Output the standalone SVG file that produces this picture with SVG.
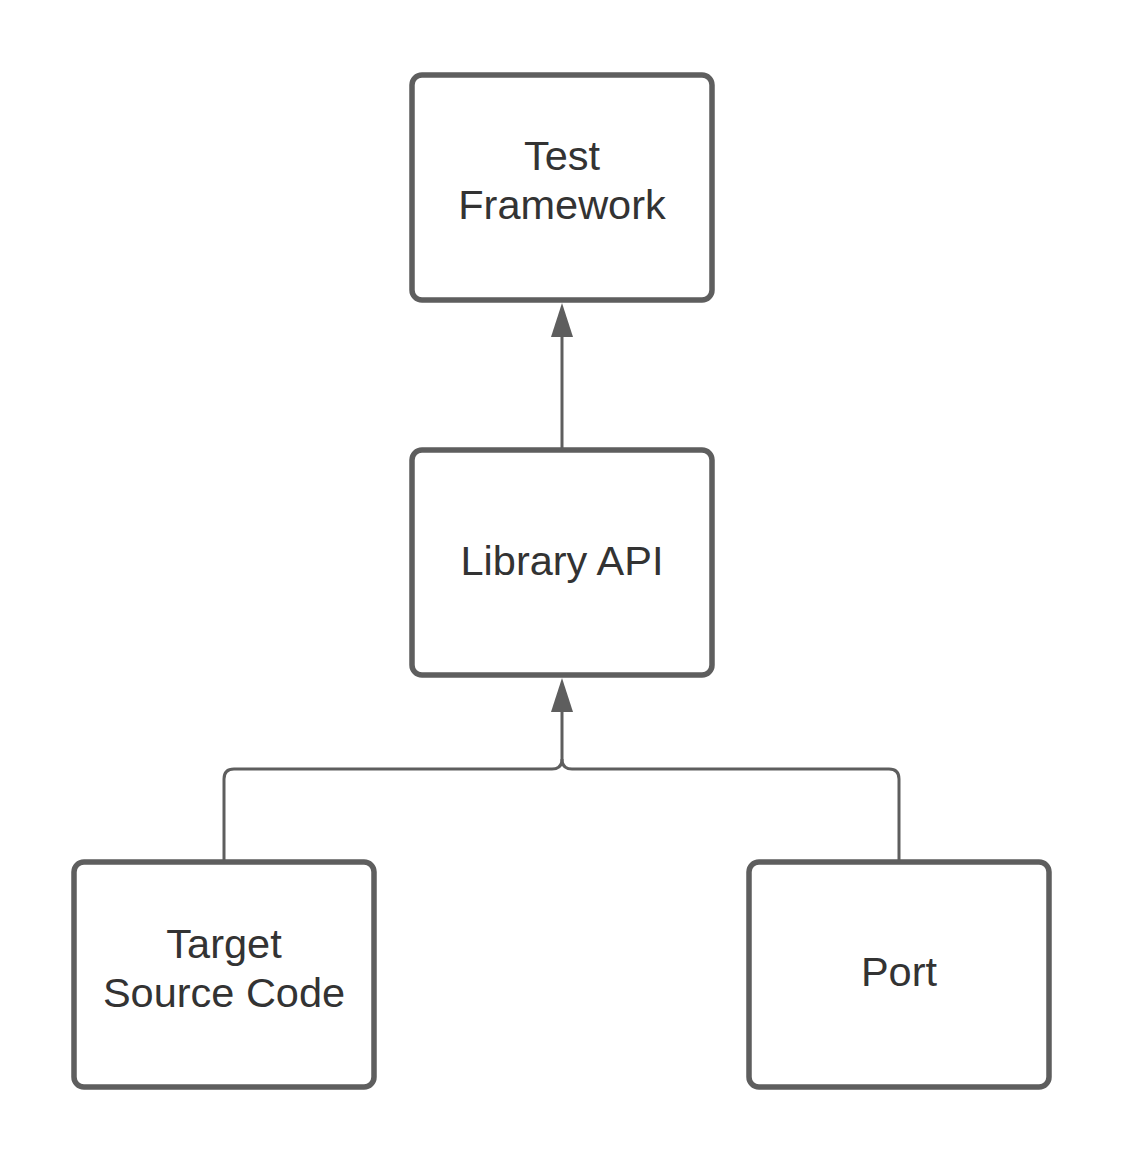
<svg xmlns="http://www.w3.org/2000/svg" width="1125" height="1163" viewBox="0 0 1125 1163">
  <defs>
    <style>
      .box { fill: #ffffff; stroke: #5e5e5e; stroke-width: 5.5; }
      .lbl { font-family: "Liberation Sans", Arial, sans-serif; font-size: 41.5px; fill: #333333; text-anchor: middle; }
      .conn { fill: none; stroke: #5e5e5e; stroke-width: 3; }
      .head { fill: #5e5e5e; stroke: none; }
    </style>
  </defs>
  <rect x="0" y="0" width="1125" height="1163" fill="#ffffff"/>
  <g id="connectors">
    <path class="conn" d="M562 450 V335"/>
    <polygon class="head" points="562,303 551,337 573,337"/>
    <path class="conn" d="M224 862 V779 Q224 769 234 769 H552 Q562 769 562 759 V710"/>
    <path class="conn" d="M899 862 V779 Q899 769 889 769 H572 Q562 769 562 759"/>
    <polygon class="head" points="562,678 551,712 573,712"/>
  </g>
  <g id="test-framework">
    <rect class="box" x="412" y="75" width="300" height="225" rx="10"/>
    <text class="lbl" x="562" y="170">Test</text>
    <text class="lbl" x="562" y="219">Framework</text>
  </g>
  <g id="library-api">
    <rect class="box" x="412" y="450" width="300" height="225" rx="10"/>
    <text class="lbl" x="562" y="575">Library API</text>
  </g>
  <g id="target-source-code">
    <rect class="box" x="74" y="862" width="300" height="225" rx="10"/>
    <text class="lbl" x="224" y="958">Target</text>
    <text class="lbl" x="224" y="1007">Source Code</text>
  </g>
  <g id="port">
    <rect class="box" x="749" y="862" width="300" height="225" rx="10"/>
    <text class="lbl" x="899" y="986">Port</text>
  </g>
</svg>
